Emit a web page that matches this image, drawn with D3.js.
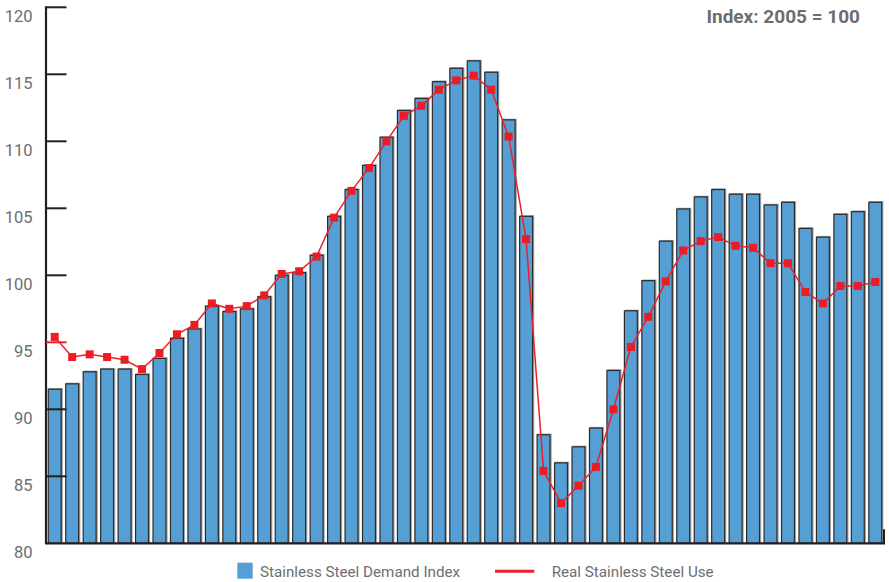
<!DOCTYPE html>
<html>
<head>
<meta charset="utf-8">
<script src="https://cdn.jsdelivr.net/npm/d3@7"></script>
<style>
  body { margin: 0; background: #fff; }
  svg { display: block; font-family: Roboto, "Liberation Sans", sans-serif; }
</style>
</head>
<body>
<svg width="889" height="582"></svg>
<script>
// Stainless steel demand index (bars) and real use (line), Index 2005 = 100
var demandIndex = [91.5, 91.9, 92.8, 93.0, 93.0, 92.6, 93.8, 95.3, 96.0, 97.7, 97.3, 97.5,
  98.4, 100.0, 100.2, 101.5, 104.4, 106.4, 108.2, 110.3, 112.3, 113.2, 114.45, 115.45,
  116.0, 115.15, 111.6, 104.4, 88.1, 86.0, 87.2, 88.6, 92.9, 97.35, 99.6, 102.55,
  104.95, 105.85, 106.4, 106.05, 106.05, 105.25, 105.45, 103.5, 102.85, 104.55, 104.75, 105.45];
var realUse = [95.4, 93.9, 94.1, 93.9, 93.7, 93.0, 94.2, 95.6, 96.3, 97.9, 97.5, 97.7,
  98.5, 100.1, 100.3, 101.4, 104.3, 106.3, 108.0, 110.0, 111.9, 112.65, 113.85, 114.55,
  114.9, 113.85, 110.35, 102.7, 85.4, 83.0, 84.3, 85.7, 90.0, 94.65, 96.9, 99.55,
  101.85, 102.55, 102.85, 102.2, 102.05, 100.9, 100.9, 98.75, 97.9, 99.2, 99.2, 99.5];
var yTicks = [80, 85, 90, 95, 100, 105, 110, 115, 120];
var seriesNames = ["Stainless Steel Demand Index", "Real Stainless Steel Use"];
var noteText = "Index: 2005 = 100";

var svg = d3.select("svg");
var plotL = 46, plotR = 884, plotT = 7.3, plotB = 543.3;

var x = d3.scaleBand()
    .domain(d3.range(demandIndex.length))
    .range([plotL, plotR])
    .paddingInner(0.26)
    .paddingOuter(0.13);
var y = d3.scaleLinear().domain([80, 120]).range([plotB, plotT]);

// bars: grey halo then blue body with dark outline
var bars = svg.append("g");
bars.selectAll("rect.shadow")
    .data(demandIndex)
    .enter().append("rect")
    .attr("class", "shadow")
    .attr("x", (d, i) => x(i) + 0.5)
    .attr("y", d => y(d) - 1.2)
    .attr("width", x.bandwidth() + 1.2)
    .attr("height", d => plotB - y(d) + 1.2)
    .attr("fill", "#a8a8a8");
bars.selectAll("rect.bar")
    .data(demandIndex)
    .enter().append("rect")
    .attr("class", "bar")
    .attr("x", (d, i) => x(i))
    .attr("y", d => y(d))
    .attr("width", x.bandwidth())
    .attr("height", d => plotB - y(d))
    .attr("fill", "#569fd5")
    .attr("stroke", "#2b2b2b")
    .attr("stroke-width", 1.2);

// axes
var axisG = svg.append("g");
axisG.append("line")
    .attr("x1", plotL).attr("x2", plotL)
    .attr("y1", plotT - 1).attr("y2", plotB + 1)
    .attr("stroke", "#231f20").attr("stroke-width", 2.2);
axisG.append("line")
    .attr("x1", plotL).attr("x2", plotR + 1)
    .attr("y1", plotB).attr("y2", plotB)
    .attr("stroke", "#231f20").attr("stroke-width", 2.2);
axisG.append("line")
    .attr("x1", plotR).attr("x2", plotR)
    .attr("y1", plotB - 14).attr("y2", plotB)
    .attr("stroke", "#231f20").attr("stroke-width", 2);

axisG.selectAll("line.tick")
    .data(yTicks.filter(d => d > 80))
    .enter().append("line")
    .attr("class", "tick")
    .attr("x1", plotL).attr("x2", plotL + 20.5)
    .attr("y1", d => y(d)).attr("y2", d => y(d))
    .attr("stroke", d => d === 95 ? "#e8212b" : "#231f20")
    .attr("stroke-width", 2);

axisG.selectAll("text.tl")
    .data(yTicks)
    .enter().append("text")
    .attr("class", "tl")
    .attr("x", 32.5)
    .attr("y", d => y(d) + 14.3)
    .attr("text-anchor", "end")
    .attr("font-size", 16.5)
    .attr("fill", "#6d6e70")
    .text(d => d);

// real use line with square markers
var line = d3.line()
    .x((d, i) => x(i) + x.bandwidth() / 2)
    .y(d => y(d));
svg.append("path")
    .datum(realUse)
    .attr("d", line)
    .attr("fill", "none")
    .attr("stroke", "#e8212b")
    .attr("stroke-width", 1.5);
svg.selectAll("rect.mk")
    .data(realUse)
    .enter().append("rect")
    .attr("class", "mk")
    .attr("x", (d, i) => x(i) + x.bandwidth() / 2 - 4)
    .attr("y", d => y(d) - 4)
    .attr("width", 8).attr("height", 8)
    .attr("fill", "#ec1c24");

// note
svg.append("text")
    .attr("x", 860).attr("y", 22.5)
    .attr("text-anchor", "end")
    .attr("font-size", 19)
    .attr("font-weight", "bold")
    .attr("fill", "#6d6e70")
    .text(noteText);

// legend
var lg = svg.append("g");
lg.append("rect")
    .attr("x", 237.3).attr("y", 562.7)
    .attr("width", 15.4).attr("height", 16)
    .attr("fill", "#569fd5");
lg.append("text")
    .attr("x", 260).attr("y", 576.5)
    .attr("font-size", 15.2)
    .attr("fill", "#6d6e70")
    .text(seriesNames[0]);
lg.append("line")
    .attr("x1", 495).attr("x2", 534.3)
    .attr("y1", 571.3).attr("y2", 571.3)
    .attr("stroke", "#e8212b").attr("stroke-width", 3);
lg.append("text")
    .attr("x", 551.7).attr("y", 576.5)
    .attr("font-size", 15.2)
    .attr("fill", "#6d6e70")
    .text(seriesNames[1]);
</script>
</body>
</html>
